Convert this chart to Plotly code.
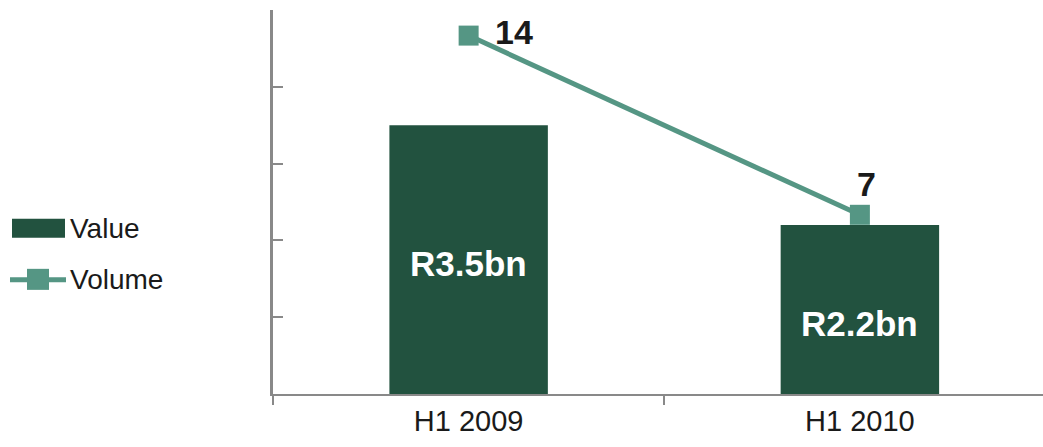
import plotly.graph_objects as go

categories = ["H1 2009", "H1 2010"]
value_bn = [3.5, 2.2]
value_labels = ["R3.5bn", "R2.2bn"]
volume = [14, 7]
volume_labels = ["14", "7"]
series_names = ["Value", "Volume"]

BAR = "#22523F"
LINE = "#559684"
AXIS = "#898989"
TXT = "#1a1a1a"
FONT = "Liberation Sans, Arial, sans-serif"

fig = go.Figure()
fig.add_trace(go.Bar(
    x=categories, y=value_bn, name=series_names[0], marker=dict(color=BAR, line=dict(width=0)),
    width=0.405, hoverinfo="skip",
))
fig.add_trace(go.Scatter(
    x=categories, y=volume, name=series_names[1], yaxis="y2", mode="lines+markers",
    line=dict(color=LINE, width=5), marker=dict(symbol="square", size=20, color=LINE),
))

# bar labels
label_shift = [-4, -14]
for c, v, t, s in zip(categories, value_bn, value_labels, label_shift):
    fig.add_annotation(x=c, y=v / 2, text=f"<b>{t}</b>", showarrow=False, yshift=s,
                       font=dict(family=FONT, size=35, color="white"), xref="x", yref="y")
# volume labels
fig.add_annotation(x=categories[0], y=volume[0], yref="y2", text=f"<b>{volume_labels[0]}</b>",
                   showarrow=False, xanchor="left", xshift=24, yshift=4,
                   font=dict(family=FONT, size=34, color=TXT))
fig.add_annotation(x=categories[1], y=volume[1], yref="y2", text=f"<b>{volume_labels[1]}</b>",
                   showarrow=False, yanchor="bottom", yshift=10, xshift=7,
                   font=dict(family=FONT, size=34, color=TXT))

# custom legend (left of plot, in pixel-like paper coords)
W, H, L, B = 770, 383.5, 273, 53
def px(xp):
    return (xp - L) / W
def py(yp):
    return (447 - B - yp) / H

fig.add_shape(type="rect", xref="paper", yref="paper", x0=px(12), x1=px(65), y0=py(238), y1=py(219),
              fillcolor=BAR, line=dict(width=0))
fig.add_shape(type="line", xref="paper", yref="paper", x0=px(10), x1=px(66), y0=py(280), y1=py(280),
              line=dict(color=LINE, width=5))
fig.add_shape(type="rect", xref="paper", yref="paper", x0=px(27), x1=px(49), y0=py(290), y1=py(269),
              fillcolor=LINE, line=dict(width=0))
for name, yc in zip(series_names, [229, 280]):
    fig.add_annotation(xref="paper", yref="paper", x=px(68), y=py(yc), text=name, showarrow=False,
                       xanchor="left", yanchor="middle", font=dict(family=FONT, size=28, color=TXT))

fig.update_layout(
    width=1043, height=447,
    margin=dict(l=L, r=0, t=10, b=B),
    paper_bgcolor="white", plot_bgcolor="white",
    font=dict(family=FONT, size=29, color=TXT),
    showlegend=False,
    xaxis=dict(
        type="category", range=[-0.5, 1.468],
        showline=True, linecolor=AXIS, linewidth=2, showgrid=False, zeroline=False,
        ticks="outside", tickson="boundaries", ticklen=9, tickcolor=AXIS, tickwidth=2,
        tickfont=dict(size=29, color=TXT),
    ),
    yaxis=dict(
        range=[0, 5], dtick=1, showticklabels=False, showline=True, linecolor=AXIS, linewidth=3,
        ticks="inside", ticklen=10, tickcolor=AXIS, tickwidth=2, showgrid=False, zeroline=False,
    ),
    yaxis2=dict(range=[0, 15], overlaying="y", visible=False),
)

fig.write_html("out.html")
